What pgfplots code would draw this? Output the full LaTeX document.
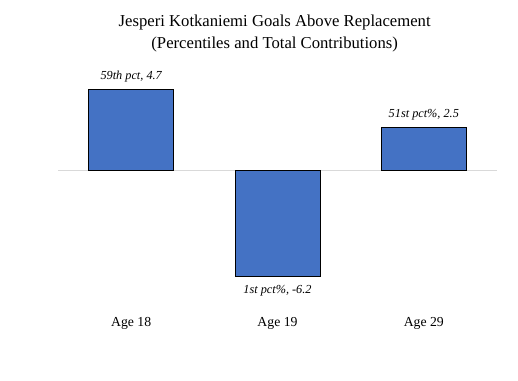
\documentclass[border=0pt]{standalone}
\usepackage{pgfplots}
\pgfplotsset{compat=1.18}
\usepackage{fontspec}
\setmainfont{Liberation Serif}
\definecolor{barblue}{HTML}{4472C4}
\definecolor{zerogray}{HTML}{D9D9D9}
\begin{document}
\begin{tikzpicture}
\path[use as bounding box] (0,0) rectangle (388.5pt,285pt);
\node[font=\fontsize{12.5}{14}\selectfont] at (206pt,268.5pt) {Jesperi Kotkaniemi Goals Above Replacement};
\node[font=\fontsize{12.5}{14}\selectfont] at (206pt,252pt) {(Percentiles and Total Contributions)};
\begin{axis}[
  at={(43.5pt,61.3pt)}, anchor=south west,
  scale only axis, width=329.25pt, height=179.55pt,
  xmin=-0.5, xmax=2.5, ymin=-7.5, ymax=6.5,
  axis line style={draw=none},
  ytick=\empty,
  extra y ticks={0}, extra y tick labels={},
  extra y tick style={grid=major, major grid style={zerogray, line width=0.75pt}, tick style={draw=none}},
  xtick={0,1,2}, xticklabels={Age 18,Age 19,Age 29},
  major tick length=0pt,
  xticklabel style={anchor=center, yshift=-18.75pt, font=\fontsize{10.3}{12}\selectfont},
  ybar, bar width=63.75pt,
  nodes near coords,
  point meta=explicit symbolic,
  every node near coord/.append style={font=\fontsize{9.2}{11}\selectfont\itshape, inner sep=5pt},
  clip=false,
]
\addplot[fill=barblue, draw=black, line width=0.6pt, bar shift=0pt] coordinates {
  (0,4.7) [59th pct, 4.7]
  (2,2.5) [51st pct\%, 2.5]
};
\addplot[fill=barblue, draw=black, line width=0.6pt, bar shift=0pt,
  every node near coord/.append style={anchor=north, yshift=-1.5pt}] coordinates {
  (1,-6.2) [1st pct\%, -6.2]
};
\end{axis}
\end{tikzpicture}
\end{document}
